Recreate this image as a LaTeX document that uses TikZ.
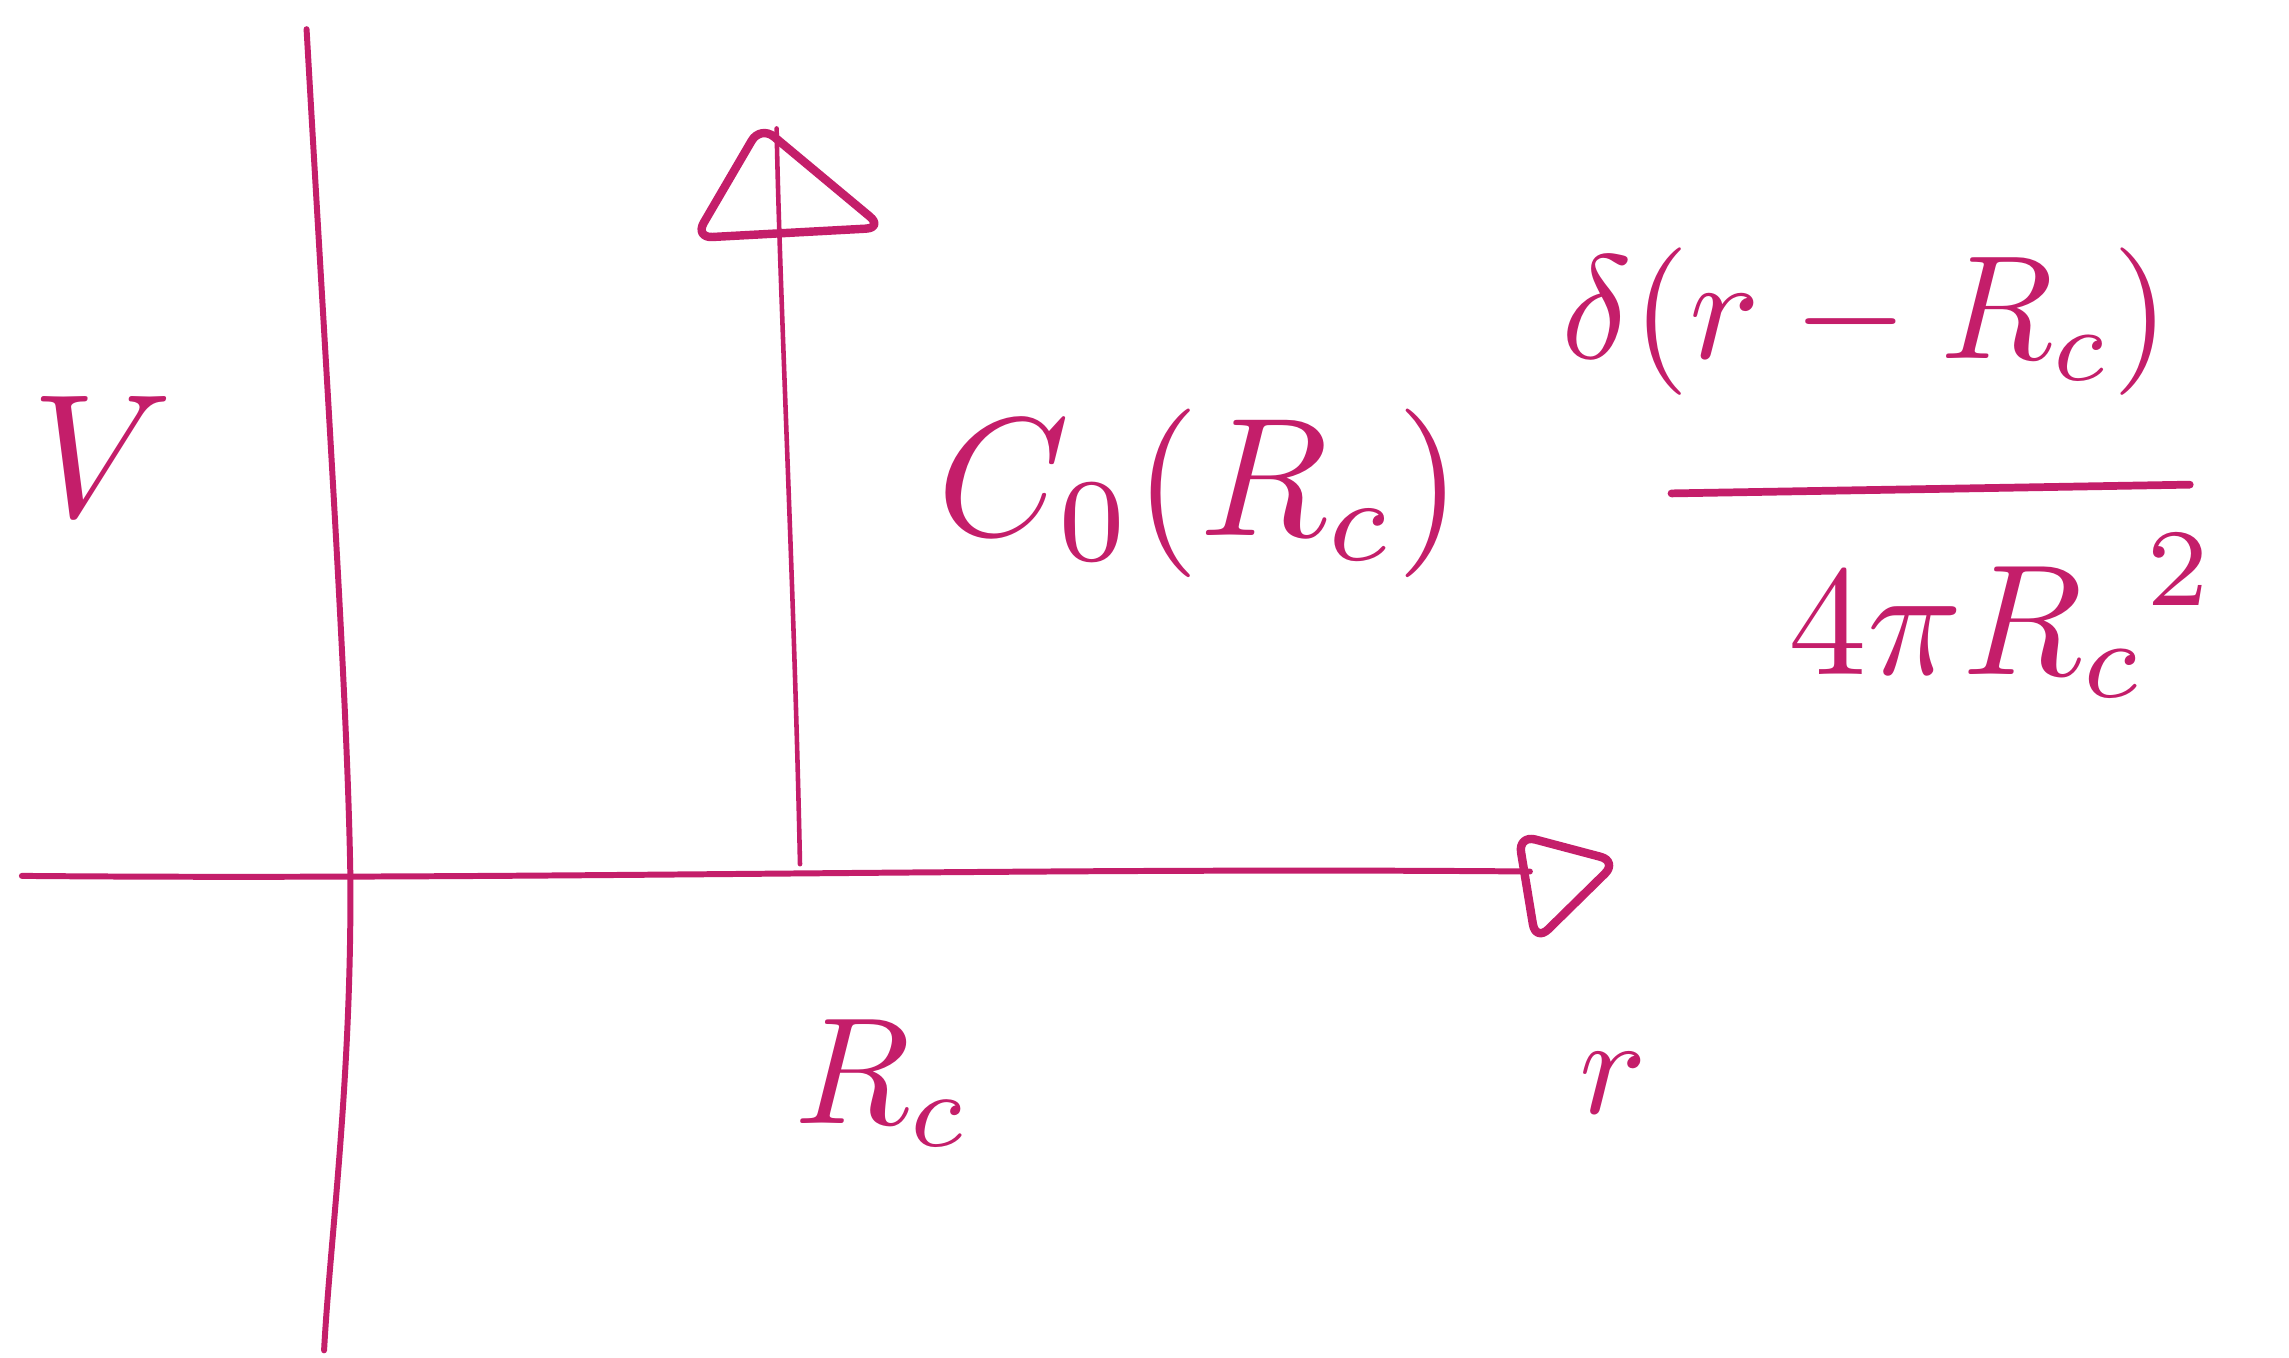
\documentclass[tikz,border=0pt]{standalone}
\definecolor{ink}{RGB}{196,30,106}
\begin{document}
\begin{tikzpicture}[x=0.0146cm,y=-0.0146cm,line cap=round,line join=round,
  axis/.style={draw=ink,line width=1.7pt},
  spikeline/.style={draw=ink,line width=1.3pt},
  headtri/.style={draw=ink,line width=2.4pt,rounded corners=5pt},
  fracline/.style={draw=ink,line width=2.2pt},
  lbl/.style={text=ink,inner sep=0pt,scale=4}]
\useasboundingbox (0,0) rectangle (1568,930);
\fill[white] (0,0) rectangle (1568,930);
% vertical axis
\coordinate (vtop) at (210,20);
\coordinate (vmid) at (240,600);
\coordinate (vbot) at (222,925);
\draw[axis] (vtop) .. controls (226,300) and (238,480) .. (vmid)
  .. controls (241,740) and (226,850) .. (vbot);
% horizontal axis
\coordinate (hl) at (15,600);
\coordinate (hr) at (1048,597);
\draw[axis] (hl) .. controls (350,603) and (700,594) .. (hr);
\coordinate (ha) at (1040,572);
\coordinate (hb) at (1108,590);
\coordinate (hc) at (1052,645);
\draw[headtri] (ha) -- (hb) -- (hc) -- cycle;
% spike
\coordinate (sb) at (548,592);
\coordinate (st) at (532,88);
\draw[spikeline] (sb) .. controls (544,400) and (534,200) .. (st);
\coordinate (ta) at (521,86);
\coordinate (tb) at (605,156);
\coordinate (tc) at (476,163);
\draw[headtri] (ta) -- (tb) -- (tc) -- cycle;
% labels
\node[lbl,scale=1.25] (V) at (70,313) {$V$};
\node[lbl,scale=1.08] (Rc) at (605,742) {$R_c$};
\node[lbl] (r) at (1105,742) {$r$};
\node[lbl,scale=1.2] (C) at (822,338) {$C_0(R_c)$};
\node[lbl,scale=1.05] (num) at (1278,220) {$\delta(r-R_c)$};
\node[lbl,scale=1.12] (den) at (1372,422) {$4\pi {R_c}^2$};
\coordinate (fl) at (1145,338);
\coordinate (fr) at (1500,332);
\draw[fracline] (fl) -- (fr);
\end{tikzpicture}
\end{document}
